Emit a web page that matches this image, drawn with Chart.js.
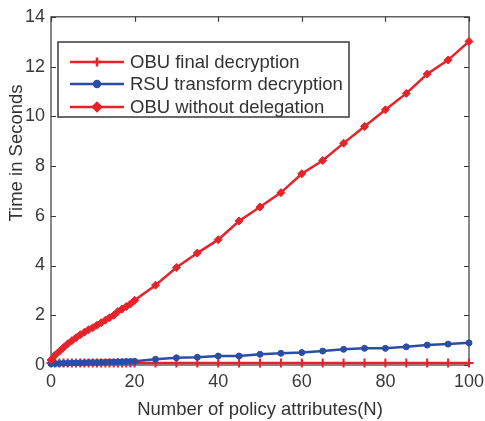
<!DOCTYPE html>
<html>
<head>
<meta charset="utf-8">
<script src="https://cdn.jsdelivr.net/npm/chart.js@4.4.1/dist/chart.umd.min.js"></script>
<style>
  html, body { margin: 0; padding: 0; background: #fff; }
  #wrap { width: 485px; height: 421px; }
</style>
</head>
<body>
<div id="wrap"><canvas id="c" width="485" height="421"></canvas></div>
<script>
// Number of policy attributes
const attributes = [0,1,2,3,4,5,6,7,8,9,10,11,12,13,14,15,16,17,18,19,20,
                    25,30,35,40,45,50,55,60,65,70,75,80,85,90,95,100];

// Decryption time (seconds)
const obuFinal = [0.08,0.08,0.08,0.08,0.08,0.08,0.08,0.08,0.08,0.08,0.08,0.08,0.08,0.08,0.08,0.08,0.08,0.08,0.08,0.08,0.08,
                  0.08,0.08,0.08,0.08,0.08,0.08,0.08,0.08,0.08,0.08,0.08,0.08,0.08,0.08,0.08,0.08];
const rsuTransform = [0.05,0.06,0.06,0.07,0.07,0.08,0.08,0.09,0.09,0.10,0.10,0.10,0.11,0.11,0.12,0.12,0.13,0.13,0.14,0.14,0.15,
                      0.23,0.29,0.31,0.36,0.36,0.43,0.47,0.50,0.56,0.63,0.67,0.67,0.73,0.80,0.84,0.89];
const obuNoDelegation = [0.20,0.40,0.55,0.70,0.85,0.98,1.10,1.22,1.32,1.42,1.50,1.60,1.70,1.80,1.90,2.00,2.15,2.25,2.35,2.45,2.60,
                         3.21,3.92,4.50,5.04,5.79,6.35,6.93,7.69,8.22,8.92,9.59,10.26,10.92,11.70,12.26,13.01];

const xTicks = [0,20,40,60,80,100];
const yTicks = [0,2,4,6,8,10,12,14];

const seriesNames = ['OBU final decryption', 'RSU transform decryption', 'OBU without delegation'];

const RED = '#e5232b';
const BLUE = '#2c4da6';
const AXIS = '#3a3a3a';
const FONT = '"Liberation Sans", Arial, Helvetica, sans-serif';
const TEXT_SIZE = 18.5;
const TICK_SIZE = 18;

const toPoints = ys => attributes.map((x, i) => ({ x, y: ys[i] }));

// Box, inward ticks on all four sides, y-axis title and the in-plot legend
const framePlugin = {
  id: 'frame',
  beforeDatasetsDraw(chart) {
    const { ctx, chartArea: a, scales } = chart;
    ctx.save();
    ctx.strokeStyle = AXIS;
    ctx.lineWidth = 1.2;
    ctx.strokeRect(a.left, a.top, a.right - a.left, a.bottom - a.top);
    const tl = 5;
    ctx.beginPath();
    xTicks.forEach(v => {
      const px = Math.round(scales.x.getPixelForValue(v)) + 0.5;
      ctx.moveTo(px, a.bottom); ctx.lineTo(px, a.bottom - tl);
      ctx.moveTo(px, a.top); ctx.lineTo(px, a.top + tl);
    });
    yTicks.forEach(v => {
      const py = Math.round(scales.y.getPixelForValue(v)) + 0.5;
      ctx.moveTo(a.left, py); ctx.lineTo(a.left + tl, py);
      ctx.moveTo(a.right, py); ctx.lineTo(a.right - tl, py);
    });
    ctx.stroke();

    // y-axis title
    ctx.fillStyle = '#333';
    ctx.font = TEXT_SIZE + 'px ' + FONT;
    ctx.textAlign = 'center';
    ctx.textBaseline = 'middle';
    ctx.translate(17, 153);
    ctx.rotate(-Math.PI / 2);
    ctx.fillText('Time in Seconds', 0, 0);
    ctx.restore();
  },
  afterDatasetsDraw(chart) {
    const { ctx } = chart;
    const box = { left: 58, top: 42, right: 349, bottom: 117 };
    ctx.save();
    ctx.fillStyle = '#fff';
    ctx.fillRect(box.left, box.top, box.right - box.left, box.bottom - box.top);
    ctx.strokeStyle = AXIS;
    ctx.lineWidth = 1.5;
    ctx.strokeRect(box.left, box.top, box.right - box.left, box.bottom - box.top);
    const rows = [62, 84, 107];
    chart.data.datasets.forEach((ds, r) => {
      const y = rows[r];
      ctx.strokeStyle = ds.borderColor;
      ctx.lineWidth = ds.borderWidth;
      ctx.beginPath();
      ctx.moveTo(70, y); ctx.lineTo(124, y);
      ctx.stroke();
      ctx.fillStyle = ds.pointBackgroundColor;
      ctx.strokeStyle = ds.pointBorderColor;
      Chart.helpers.drawPoint(ctx, {
        pointStyle: ds.pointStyle,
        radius: ds.pointRadius,
        rotation: 0,
        borderWidth: ds.pointBorderWidth
      }, 97, y);
      ctx.fillStyle = '#333';
      ctx.font = TEXT_SIZE + 'px ' + FONT;
      ctx.textAlign = 'left';
      ctx.textBaseline = 'middle';
      ctx.fillText(ds.label, 130, y + 1);
    });
    ctx.restore();
  }
};

new Chart(document.getElementById('c'), {
  type: 'line',
  data: {
    datasets: [
      {
        label: seriesNames[0],
        data: toPoints(obuFinal),
        borderColor: RED, backgroundColor: RED,
        borderWidth: 2.5,
        pointStyle: 'cross', pointRadius: 4.5, pointBorderWidth: 2,
        pointBorderColor: RED, pointBackgroundColor: RED,
        order: 3, clip: false
      },
      {
        label: seriesNames[1],
        data: toPoints(rsuTransform),
        borderColor: BLUE, backgroundColor: BLUE,
        borderWidth: 2.5,
        pointStyle: 'circle', pointRadius: 3, pointBorderWidth: 1,
        pointBorderColor: BLUE, pointBackgroundColor: BLUE,
        order: 2, clip: false
      },
      {
        label: seriesNames[2],
        data: toPoints(obuNoDelegation),
        borderColor: RED, backgroundColor: RED,
        borderWidth: 2.5,
        pointStyle: 'rectRot', pointRadius: 4, pointBorderWidth: 1,
        pointBorderColor: RED, pointBackgroundColor: RED,
        order: 1, clip: false
      }
    ]
  },
  options: {
    responsive: false,
    animation: false,
    events: [],
    layout: { padding: { top: 15, right: 0, left: 0, bottom: 0 } },
    plugins: { legend: { display: false }, tooltip: { enabled: false } },
    scales: {
      x: {
        type: 'linear', min: 0, max: 100,
        afterBuildTicks: s => { s.ticks = xTicks.map(v => ({ value: v })); },
        afterFit: s => { s.height = 56; s.paddingRight = 16; },
        grid: { display: false, drawTicks: false },
        border: { display: false },
        ticks: { color: '#3a3a3a', font: { family: FONT, size: TICK_SIZE }, padding: 6, maxRotation: 0 },
        title: { display: true, text: 'Number of policy attributes(N)', color: '#333',
                 font: { family: FONT, size: TEXT_SIZE }, padding: { top: 3, bottom: 0 } }
      },
      y: {
        type: 'linear', min: 0, max: 14,
        afterBuildTicks: s => { s.ticks = yTicks.map(v => ({ value: v })); },
        afterFit: s => { s.width = 51; },
        grid: { display: false, drawTicks: false },
        border: { display: false },
        ticks: { color: '#3a3a3a', font: { family: FONT, size: TICK_SIZE }, padding: 6 }
      }
    }
  },
  plugins: [framePlugin]
});
</script>
</body>
</html>
